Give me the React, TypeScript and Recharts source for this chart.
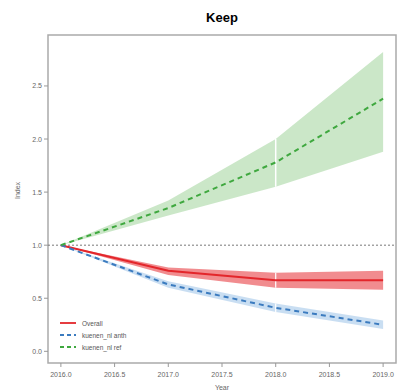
import { ComposedChart, Area, Line, XAxis, YAxis, ReferenceLine, ReferenceArea } from 'recharts';

const years = [2016, 2017, 2018, 2019];

const overall = [1.0, 0.76, 0.67, 0.67];
const overallLo = [1.0, 0.72, 0.6, 0.58];
const overallHi = [1.0, 0.79, 0.74, 0.76];

const anth = [1.0, 0.63, 0.41, 0.25];
const anthLo = [1.0, 0.6, 0.37, 0.21];
const anthHi = [1.0, 0.66, 0.45, 0.29];

const ref = [1.0, 1.35, 1.78, 2.38];
const refLo = [1.0, 1.28, 1.55, 1.88];
const refHi = [1.0, 1.42, 2.0, 2.82];

const xTicks = [2016, 2016.5, 2017, 2017.5, 2018, 2018.5, 2019];
const yTicks = [0, 0.5, 1, 1.5, 2, 2.5];

const seriesNames = ['Overall', 'kuenen_nl anth', 'kuenen_nl ref'];

const X_DOMAIN: [number, number] = [2015.88, 2019.12];
const Y_DOMAIN: [number, number] = [-0.11, 2.98];

const RED = '#e3262b';
const BLUE = '#3b7bbf';
const GREEN = '#3fa83f';

const data = years.map((y, i) => ({
  year: y,
  overall: overall[i],
  overallBand: [overallLo[i], overallHi[i]],
  anth: anth[i],
  anthBand: [anthLo[i], anthHi[i]],
  ref: ref[i],
  refBand: [refLo[i], refHi[i]],
}));

const gapIdx = years.indexOf(2018);

const legendItems = [
  { name: seriesNames[0], color: RED, dash: undefined },
  { name: seriesNames[1], color: BLUE, dash: '4 3' },
  { name: seriesNames[2], color: GREEN, dash: '4 3' },
];

// in-plot legend, bottom left like the R original
function LegendBox() {
  return (
    <svg width={90} height={40} style={{ position: 'absolute', left: 56, top: 317 }}>
      {legendItems.map((it, i) => (
        <g key={it.name} transform={`translate(0, ${6 + i * 12})`}>
          <line x1={4} x2={20} y1={0} y2={0} stroke={it.color} strokeWidth={1.8} strokeDasharray={it.dash} />
          <text x={26} y={2.5} fontSize={6.5} fill="#555">{it.name}</text>
        </g>
      ))}
    </svg>
  );
}

const fmt = (v: number) => v.toFixed(1);

export default function App() {
  return (
    <div style={{ position: 'absolute', left: 0, top: 0, width: 400, height: 391, background: '#fff', fontFamily: '"Liberation Sans", Arial, sans-serif' }}>
      <div style={{ position: 'absolute', left: 0, width: 444, top: 10, textAlign: 'center', fontWeight: 'bold', fontSize: 13 }}>Keep</div>
      <ComposedChart width={400} height={391} data={data} margin={{ top: 35, right: 4, bottom: 0, left: 18 }}>
        <XAxis
          dataKey="year"
          type="number"
          domain={X_DOMAIN}
          ticks={xTicks}
          tickFormatter={fmt}
          allowDataOverflow
          height={28}
          axisLine={false}
          tickLine={{ stroke: '#999' }}
          tickSize={4}
          tick={{ fontSize: 7, fill: '#666', dy: 3 }}
          label={{ value: 'Year', position: 'insideBottom', offset: 1, fontSize: 7, fill: '#666' }}
        />
        <YAxis
          type="number"
          domain={Y_DOMAIN}
          ticks={yTicks}
          tickFormatter={fmt}
          allowDataOverflow
          width={30}
          axisLine={false}
          tickLine={{ stroke: '#999' }}
          tickSize={4}
          tick={{ fontSize: 7, fill: '#666' }}
          label={{ value: 'Index', angle: -90, position: 'insideLeft', offset: 0, fontSize: 7, fill: '#666' }}
        />
        <ReferenceArea x1={X_DOMAIN[0]} x2={X_DOMAIN[1]} y1={Y_DOMAIN[0]} y2={Y_DOMAIN[1]} fill="none" stroke="#aaa" strokeWidth={1.5} fillOpacity={0} />
        <Area dataKey="refBand" type="linear" stroke="none" fill="#b9dfb6" fillOpacity={0.75} isAnimationActive={false} />
        <Area dataKey="overallBand" type="linear" stroke="none" fill="#ee6f73" fillOpacity={0.8} isAnimationActive={false} />
        <Area dataKey="anthBand" type="linear" stroke="none" fill="#b7d3ee" fillOpacity={0.75} isAnimationActive={false} />
        <ReferenceLine segment={[{ x: 2018, y: refLo[gapIdx] }, { x: 2018, y: refHi[gapIdx] }]} stroke="#fff" strokeWidth={1.5} />
        <ReferenceLine segment={[{ x: 2018, y: overallLo[gapIdx] }, { x: 2018, y: overallHi[gapIdx] }]} stroke="#fff" strokeWidth={1.2} />
        <ReferenceLine segment={[{ x: 2018, y: anthLo[gapIdx] }, { x: 2018, y: anthHi[gapIdx] }]} stroke="#fff" strokeWidth={1.2} />
        <ReferenceLine y={1} stroke="#777" strokeDasharray="2 2" strokeWidth={1} />
        <Line dataKey="overall" type="linear" stroke={RED} strokeWidth={2} dot={false} isAnimationActive={false} />
        <Line dataKey="anth" type="linear" stroke={BLUE} strokeWidth={2} strokeDasharray="5 4" dot={false} isAnimationActive={false} />
        <Line dataKey="ref" type="linear" stroke={GREEN} strokeWidth={2} strokeDasharray="5 4" dot={false} isAnimationActive={false} />
      </ComposedChart>
      <LegendBox />
    </div>
  );
}
